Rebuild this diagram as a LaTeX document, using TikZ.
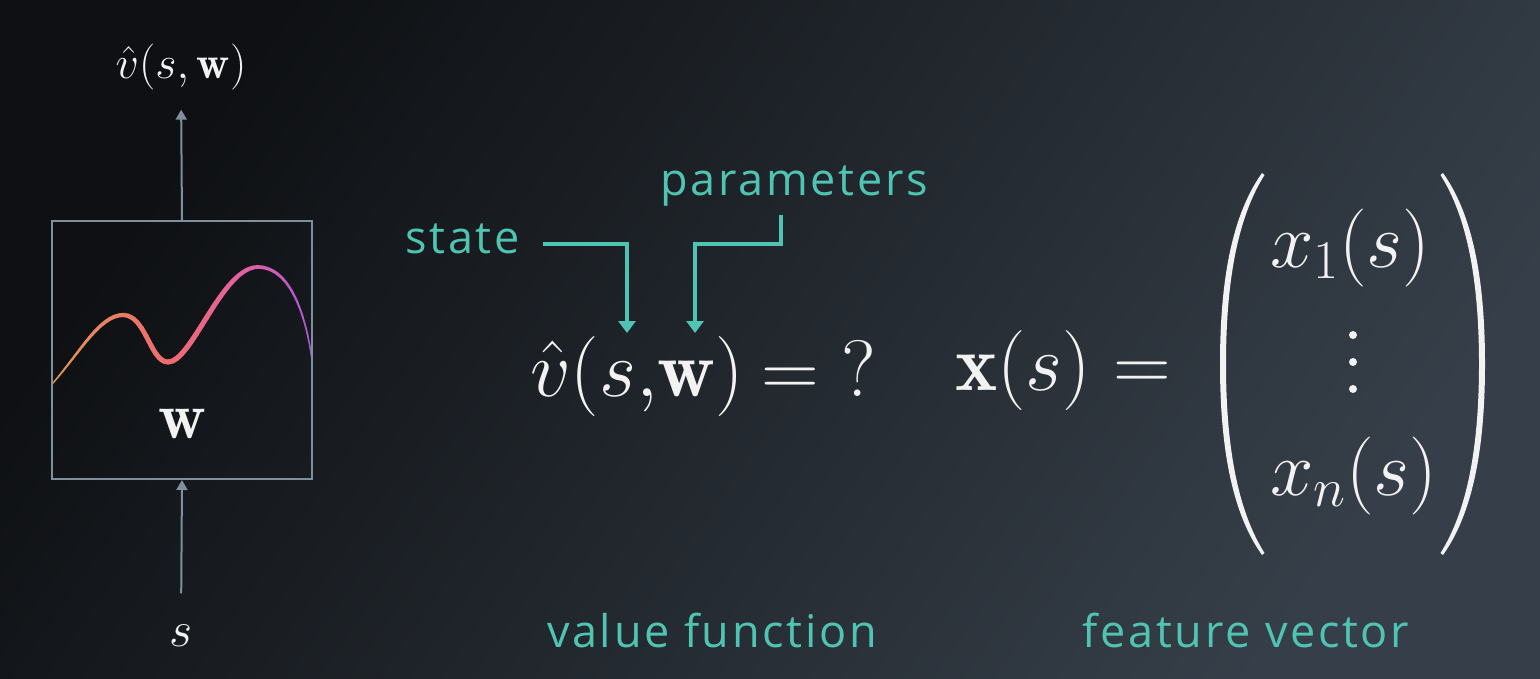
\RequirePackage{fix-cm}
\documentclass[tikz,border=0pt]{standalone}
\usepackage{fontspec}
\usetikzlibrary{arrows.meta}
\newfontfamily\lblfont{Open Sans}[LetterSpace=6.0]
\definecolor{tealc}{RGB}{80,196,178}
\definecolor{grayc}{RGB}{128,143,158}
\definecolor{whitec}{RGB}{242,242,242}
\definecolor{bgA}{RGB}{14,16,19}
\definecolor{bgB}{RGB}{54,63,73}
\definecolor{cA}{RGB}{226,150,82}
\definecolor{cB}{RGB}{238,106,112}
\definecolor{cC}{RGB}{226,96,165}
\definecolor{cD}{RGB}{168,86,214}
\tikzset{
  lbl/.style={text=tealc, font=\lblfont\fontsize{45}{54}\selectfont, inner sep=0pt},
  mathtxt/.style={text=whitec, inner sep=0pt},
  callout/.style={draw=tealc, line width=3.3pt, -{Triangle[width=17pt,length=12pt]}},
  grayarrow/.style={draw=grayc, line width=2pt, -{Triangle[width=11pt,length=10pt]}},
  boxstyle/.style={draw=grayc, line width=2pt, inner sep=0pt, minimum width=260pt, minimum height=258pt},
  parenfill/.style={fill=whitec, draw=none}
}
\newcommand{\curvepath}{(53,383) .. controls (80,352) and (100,315) .. (123,315) .. controls (146,315) and (150,362) .. (168,362) .. controls (192,362) and (222,267) .. (258,267) .. controls (290,267) and (306,315) .. (312,360)}
\newcommand{\bigparenpath}{(1262,173) .. controls (1232,215) and (1220,280) .. (1220,364) .. controls (1220,448) and (1232,513) .. (1262,555) -- (1264.5,553) .. controls (1238,511) and (1226,448) .. (1226,364) .. controls (1226,280) and (1238,217) .. (1264.5,175) -- cycle}
\begin{document}
\begin{tikzpicture}[x=1pt,y=-1pt]
\useasboundingbox (0,0) rectangle (1540,678);
\shade[top color=bgA, bottom color=bgB, shading angle=55] (0,0) rectangle (1540,678);

% gradient curve in the box
\foreach \i in {0,...,51}{
  \pgfmathsetmacro\t{(\i+0.5)/52}
  \pgfmathtruncatemacro\seg{\t<0.45 ? 0 : (\t<0.75 ? 1 : 2)}
  \pgfmathtruncatemacro\pa{max(0,min(100,100*\t/0.45))}
  \pgfmathtruncatemacro\pb{max(0,min(100,100*(\t-0.45)/0.30))}
  \pgfmathtruncatemacro\pc{max(0,min(100,100*(\t-0.75)/0.25))}
  \pgfmathsetmacro\lw{1.4+3.8*sin(180*\t)}
  \pgfmathsetmacro\xa{53+\i*5}
  \pgfmathsetmacro\xb{min(53+\i*5+5.4,311)}
  \ifcase\seg \colorlet{cc}{cB!\pa!cA}\or \colorlet{cc}{cC!\pb!cB}\or \colorlet{cc}{cD!\pc!cC}\fi
  \begin{scope}
    \clip (\xa,240) rectangle (\xb,420);
    \draw[cc, line width=\lw pt, line cap=round] \curvepath;
  \end{scope}
}

% box and its arrows
\node[boxstyle] (box) at (182,350) {};
\node[mathtxt, anchor=base, font=\fontsize{66}{78}\selectfont] (wlab) at (182,438) {$\mathbf{w}$};
\node[mathtxt, anchor=base, font=\fontsize{46}{55}\selectfont] (vlab) at (181,78) {$\hat v(s,\mathbf w)$};
\node[mathtxt, anchor=base, font=\fontsize{50}{60}\selectfont] (slab) at (181,646) {$s$};
\draw[grayarrow, shorten >=20pt] (box.north) -- (vlab.south);
\draw[grayarrow, shorten <=31pt] (slab.north) -- (box.south);

% value function
\node[mathtxt, anchor=base west, font=\fontsize{80}{96}\selectfont] (vf) at (530,396) {$\hat v(s{,}\mathbf w)\mkern4mu\mathord{=}\mkern5mu?$};
\node[lbl, anchor=base east] (state) at (520,253) {state};
\node[lbl, anchor=base west] (params) at (660,195) {parameters};
\coordinate (sStart) at (543,244);
\coordinate (sTip) at (627,333);
\coordinate (pStart) at (781,215);
\coordinate (pTip) at (695,333);
\draw[callout] (sStart) -| (sTip);
\draw[callout] (pStart) -- ++(0,29) -| (pTip);
\node[lbl, anchor=base] (vflab) at (712,647) {value function};

% feature vector
\node[mathtxt, anchor=base west, font=\fontsize{80}{96}\selectfont] (xs) at (955,390) {$\mathbf x(s)=$};
\fill[parenfill] \bigparenpath;
\begin{scope}[xshift=2705pt, xscale=-1]
  \fill[parenfill] \bigparenpath;
\end{scope}
\node[mathtxt, anchor=base west, font=\fontsize{78}{94}\selectfont] (x1) at (1270,267) {$x_1(s)$};
\node[mathtxt, anchor=base west, font=\fontsize{78}{94}\selectfont] (xn) at (1270,495) {$x_n(s)$};
\fill[whitec] (1353,335) circle (4) (1353,362) circle (4) (1353,389) circle (4);
\node[lbl, anchor=base] (fvlab) at (1246,647) {feature vector};
\end{tikzpicture}
\end{document}
